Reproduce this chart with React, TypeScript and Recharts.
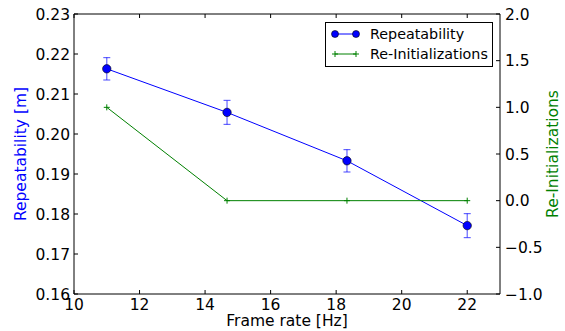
import React from "react";
import { ComposedChart, Line, XAxis, YAxis, ErrorBar, ReferenceLine, Legend } from "recharts";

const frameRates = [11, 14.67, 18.33, 22];
const repeatability = [0.2163, 0.2054, 0.1933, 0.1771];
const repeatabilityErr = [0.0028, 0.003, 0.0028, 0.003];
const reInitializations = [1, 0, 0, 0];

const xTicks = [10, 12, 14, 16, 18, 20, 22];
const leftTicks = [0.16, 0.17, 0.18, 0.19, 0.2, 0.21, 0.22, 0.23];
const rightTicks = [-1, -0.5, 0, 0.5, 1, 1.5, 2];

const data = frameRates.map((x, i) => ({
  x,
  rep: repeatability[i],
  err: repeatabilityErr[i],
  reinit: reInitializations[i],
}));

const FONT = "'DejaVu Sans', sans-serif";
const FS = 15.5;
const BLUE = "#0000ff";
const GREEN = "#008000";
const PLOT_TOP = 14;

const XTick = (props: any) => {
  const { x, y, payload } = props;
  return (
    <g>
      <line x1={x} x2={x} y1={y} y2={y - 4} stroke="#000" />
      <line x1={x} x2={x} y1={PLOT_TOP} y2={PLOT_TOP + 4} stroke="#000" />
      <text x={x} y={y + 16} textAnchor="middle" fontSize={FS} fontFamily={FONT} fill="#000">
        {payload.value}
      </text>
    </g>
  );
};

const LeftTick = (props: any) => {
  const { x, y, payload } = props;
  return (
    <g>
      <line x1={x} x2={x + 4} y1={y} y2={y} stroke="#000" />
      <text x={x - 4} y={y} dy="0.36em" textAnchor="end" fontSize={FS} fontFamily={FONT} fill="#000">
        {Number(payload.value).toFixed(2)}
      </text>
    </g>
  );
};

const RightTick = (props: any) => {
  const { x, y, payload } = props;
  const v = Number(payload.value);
  const label = (v < 0 ? "\u2212" : "") + Math.abs(v).toFixed(1);
  return (
    <g>
      <line x1={x} x2={x - 4} y1={y} y2={y} stroke="#000" />
      <text x={x + 5} y={y} dy="0.36em" textAnchor="start" fontSize={FS} fontFamily={FONT} fill="#000">
        {label}
      </text>
    </g>
  );
};

const AxisTitle = (props: any) => {
  const { px, py, rot, color, text } = props;
  return (
    <text
      x={px}
      y={py}
      transform={rot ? `rotate(${rot} ${px} ${py})` : undefined}
      textAnchor="middle"
      fontSize={FS}
      fontFamily={FONT}
      fill={color}
    >
      {text}
    </text>
  );
};

const CircleDot = (props: any) => {
  const { cx, cy, index } = props;
  return <circle key={`c-${index}`} cx={cx} cy={cy} r={4.2} fill={BLUE} stroke="#000" strokeWidth={0.6} />;
};

const PlusDot = (props: any) => {
  const { cx, cy, index } = props;
  return (
    <path
      key={`p-${index}`}
      d={`M${cx - 3},${cy}H${cx + 3}M${cx},${cy - 3}V${cy + 3}`}
      stroke={GREEN}
      strokeWidth={1}
      fill="none"
    />
  );
};

const LegendBox = () => (
  <div
    style={{
      position: "relative",
      width: 166,
      height: 43,
      border: "1px solid #000",
      background: "#fff",
      fontFamily: FONT,
      fontSize: 14.3,
      color: "#000",
    }}
  >
    <svg width={40} height={44} style={{ position: "absolute", left: 0, top: 0 }}>
      <line x1={9} x2={30} y1={11} y2={11} stroke={BLUE} />
      <circle cx={9} cy={11} r={3.5} fill={BLUE} stroke="#000" strokeWidth={0.6} />
      <circle cx={30} cy={11} r={3.5} fill={BLUE} stroke="#000" strokeWidth={0.6} />
      <line x1={9} x2={30} y1={31} y2={31} stroke={GREEN} />
      <path d="M6,31H12M9,28V34M27,31H33M30,28V34" stroke={GREEN} fill="none" />
    </svg>
    <div style={{ position: "absolute", left: 44, top: 2, lineHeight: "18px", whiteSpace: "nowrap" }}>Repeatability</div>
    <div style={{ position: "absolute", left: 44, top: 22, lineHeight: "18px", whiteSpace: "nowrap" }}>Re-Initializations</div>
  </div>
);

export default function App() {
  return (
    <div style={{ position: "absolute", left: 0, top: 0, background: "#fff" }}>
      <ComposedChart width={565} height={331} data={data} margin={{ top: PLOT_TOP, right: 0, bottom: 0, left: 0 }}>
        <XAxis
          dataKey="x"
          type="number"
          domain={[10, 23]}
          ticks={xTicks}
          height={37}
          tickSize={0}
          tickMargin={0}
          tickLine={false}
          tick={<XTick />}
          axisLine={{ stroke: "#000" }}
          label={<AxisTitle px={287} py={326} rot={0} color="#000" text="Frame rate [Hz]" />}
        />
        <YAxis
          yAxisId="left"
          orientation="left"
          domain={[0.16, 0.23]}
          ticks={leftTicks}
          width={74}
          tickSize={0}
          tickMargin={0}
          tickLine={false}
          tick={<LeftTick />}
          axisLine={{ stroke: "#000" }}
          label={<AxisTitle px={26} py={154} rot={-90} color={BLUE} text="Repeatability [m]" />}
        />
        <YAxis
          yAxisId="right"
          orientation="right"
          domain={[-1, 2]}
          ticks={rightTicks}
          width={65}
          tickSize={0}
          tickMargin={0}
          tickLine={false}
          tick={<RightTick />}
          axisLine={{ stroke: "#000" }}
          label={<AxisTitle px={558} py={154} rot={-90} color={GREEN} text="Re-Initializations" />}
        />
        <ReferenceLine yAxisId="left" y={0.23} stroke="#000" />
        <Line
          yAxisId="left"
          dataKey="rep"
          stroke={BLUE}
          strokeWidth={1}
          dot={<CircleDot />}
          activeDot={false}
          isAnimationActive={false}
        >
          <ErrorBar dataKey="err" direction="y" width={3.5} stroke={BLUE} strokeOpacity={0.6} strokeWidth={1.2} />
        </Line>
        <Line
          yAxisId="right"
          dataKey="reinit"
          stroke={GREEN}
          strokeWidth={1}
          dot={<PlusDot />}
          activeDot={false}
          isAnimationActive={false}
        />
        <Legend
          layout="vertical"
          align="center"
          verticalAlign="middle"
          content={<LegendBox />}
          wrapperStyle={{ position: "absolute", left: 325, top: 22, width: 168, height: 45 }}
        />
      </ComposedChart>
    </div>
  );
}
